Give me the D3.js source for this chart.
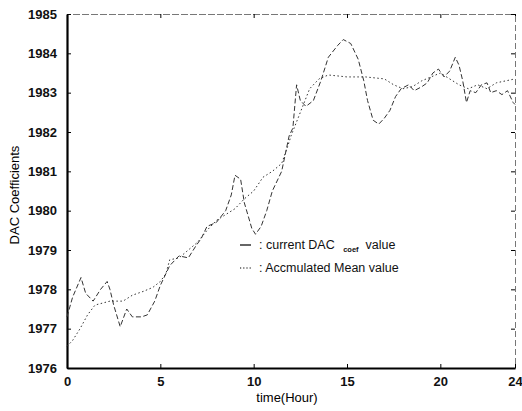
<!DOCTYPE html>
<html>
<head>
<meta charset="utf-8">
<script src="https://cdn.jsdelivr.net/npm/d3@7"></script>
<style>
  body { margin: 0; background: #fff; }
  svg { display: block; font-family: "Liberation Sans", Arial, sans-serif; }
  .tick text { font-size: 13px; font-weight: bold; fill: #111; }
</style>
</head>
<body>
<svg id="chart" width="522" height="411"></svg>
<script>
const svg = d3.select("#chart"),
      width = +svg.attr("width"),
      height = +svg.attr("height");

const margin = { top: 14, right: 7, bottom: 43, left: 67 };
const iw = width - margin.left - margin.right,
      ih = height - margin.top - margin.bottom;

// tick labels
const xTicks = [0, 5, 10, 15, 20, 24];
const yTicks = [1976, 1977, 1978, 1979, 1980, 1981, 1982, 1983, 1984, 1985];

// current DAC coef value (noisy)
const curHours = [0, 0.3, 0.75, 1.0, 1.4, 1.8, 2.15, 2.3, 2.5, 2.85, 3.2, 3.5, 4.0, 4.3, 4.7, 5.0,
  5.5, 6.0, 6.5, 6.9, 7.2, 7.5, 8.0, 8.5, 8.8, 9.0, 9.3, 9.5, 9.9, 10.1, 10.4, 10.7, 11.0, 11.5,
  11.9, 12.1, 12.3, 12.5, 12.8, 13.2, 13.6, 14.0, 14.5, 14.8, 15.2, 15.6, 15.9, 16.1, 16.4, 16.7,
  17.0, 17.3, 17.6, 17.9, 18.3, 18.6, 19.0, 19.3, 19.6, 19.9, 20.2, 20.5, 20.8, 21.0, 21.2, 21.4,
  21.6, 21.9, 22.2, 22.5, 22.7, 23.0, 23.3, 23.6, 23.9, 24];
const curValues = [1977.3, 1977.8, 1978.3, 1977.9, 1977.7, 1978.0, 1978.2, 1978.0, 1977.6, 1977.05, 1977.5, 1977.3, 1977.3, 1977.35, 1977.7, 1978.1,
  1978.6, 1978.85, 1978.8, 1979.1, 1979.3, 1979.6, 1979.7, 1980.0, 1980.4, 1980.9, 1980.8, 1980.2, 1979.55, 1979.4, 1979.6, 1980.0, 1980.5, 1981.0,
  1981.9, 1982.1, 1983.2, 1982.8, 1982.65, 1982.8, 1983.3, 1983.9, 1984.2, 1984.35, 1984.25, 1983.85, 1983.3, 1982.8, 1982.3, 1982.2,
  1982.35, 1982.55, 1982.9, 1983.1, 1983.2, 1983.05, 1983.15, 1983.25, 1983.5, 1983.6, 1983.4, 1983.55, 1983.9, 1983.7, 1983.3, 1982.75,
  1983.05, 1983.0, 1983.2, 1983.25, 1983.0, 1983.05, 1982.95, 1983.05, 1982.75, 1982.7];

// accumulated mean value
const meanHours = [0, 0.3, 0.7, 1.1, 1.5, 2.3, 3.0, 3.5, 4.1, 4.6, 5.0, 5.3, 5.5, 6.0, 6.5, 7.0, 7.5, 8.0,
  8.5, 9.0, 9.5, 10.0, 10.5, 11.0, 11.5, 11.8, 12.0, 12.5, 13.0, 13.5, 14.0, 15.0, 16.0, 17.0, 17.5, 18.0,
  18.5, 19.0, 19.5, 20.0, 20.5, 21.0, 21.5, 22.0, 22.5, 23.0, 23.5, 24];
const meanValues = [1976.55, 1976.7, 1977.0, 1977.35, 1977.6, 1977.7, 1977.7, 1977.85, 1977.95, 1978.05, 1978.2, 1978.4, 1978.75, 1978.8, 1979.0, 1979.2, 1979.5, 1979.75,
  1979.9, 1980.05, 1980.3, 1980.5, 1980.85, 1981.0, 1981.2, 1981.6, 1981.9, 1982.5, 1983.1, 1983.35, 1983.45, 1983.4, 1983.4, 1983.35, 1983.2, 1983.1,
  1983.15, 1983.3, 1983.4, 1983.5, 1983.35, 1983.2, 1983.1, 1983.2, 1983.1, 1983.25, 1983.3, 1983.35];

const x = d3.scaleLinear().domain([0, 24]).range([0, iw]);
const y = d3.scaleLinear().domain([1976, 1985]).range([ih, 0]);

const g = svg.append("g").attr("transform", `translate(${margin.left},${margin.top})`);

// top and right frame (faint, broken in print)
g.append("g")
    .call(d3.axisTop(x).tickValues(xTicks).tickSize(-4).tickFormat(""))
    .call(a => a.select(".domain").attr("stroke", "#777").attr("stroke-dasharray", "7,2"));
g.append("g")
    .attr("transform", `translate(${iw},0)`)
    .call(d3.axisRight(y).tickValues(yTicks).tickSize(-4).tickFormat(""))
    .call(a => a.select(".domain").attr("stroke", "#777").attr("stroke-dasharray", "6,3"));

// bottom and left axes
const xAxis = g.append("g")
    .attr("transform", `translate(0,${ih})`)
    .call(d3.axisBottom(x).tickValues(xTicks).tickSizeInner(-4).tickSizeOuter(0).tickPadding(9));
xAxis.select(".domain").attr("stroke-width", 2.2);

const yAxis = g.append("g")
    .call(d3.axisLeft(y).tickValues(yTicks).tickFormat(d3.format("d"))
        .tickSizeInner(-4).tickSizeOuter(0).tickPadding(10));
yAxis.select(".domain").attr("stroke-width", 2.2);

// series
const line = d3.line().x(d => x(d[0])).y(d => y(d[1]));

g.append("path")
    .datum(curHours.map((h, i) => [h, curValues[i]]))
    .attr("fill", "none")
    .attr("stroke", "#333")
    .attr("stroke-width", 1)
    .attr("stroke-dasharray", "5,2.5")
    .attr("d", line);

g.append("path")
    .datum(meanHours.map((h, i) => [h, meanValues[i]]))
    .attr("fill", "none")
    .attr("stroke", "#333")
    .attr("stroke-width", 1)
    .attr("stroke-dasharray", "1.5,2.5")
    .attr("d", line);

// legend
const leg = svg.append("g").attr("font-size", 12.5).attr("fill", "#111");
leg.append("line").attr("x1", 240).attr("x2", 251).attr("y1", 245).attr("y2", 245)
    .attr("stroke", "#000").attr("stroke-width", 1.2);
const t1 = leg.append("text").attr("x", 259).attr("y", 249);
t1.append("tspan").text(": current DAC ");
t1.append("tspan").attr("font-size", 7.5).attr("font-weight", "bold").attr("dy", 3).attr("dx", 5).text("coef");
t1.append("tspan").attr("dy", -3).attr("dx", 7).text("value");

leg.append("line").attr("x1", 240).attr("x2", 252).attr("y1", 268).attr("y2", 268)
    .attr("stroke", "#000").attr("stroke-width", 1.2).attr("stroke-dasharray", "1.2,2");
leg.append("text").attr("x", 259).attr("y", 272).text(": Accmulated Mean value");

// axis titles
svg.append("text")
    .attr("x", margin.left + iw / 2 - 4).attr("y", 402)
    .attr("text-anchor", "middle").attr("font-size", 13)
    .text("time(Hour)");
svg.append("text")
    .attr("transform", `translate(19,${margin.top + ih / 2 + 4}) rotate(-90)`)
    .attr("text-anchor", "middle").attr("font-size", 13)
    .text("DAC Coefficients");
</script>
</body>
</html>
